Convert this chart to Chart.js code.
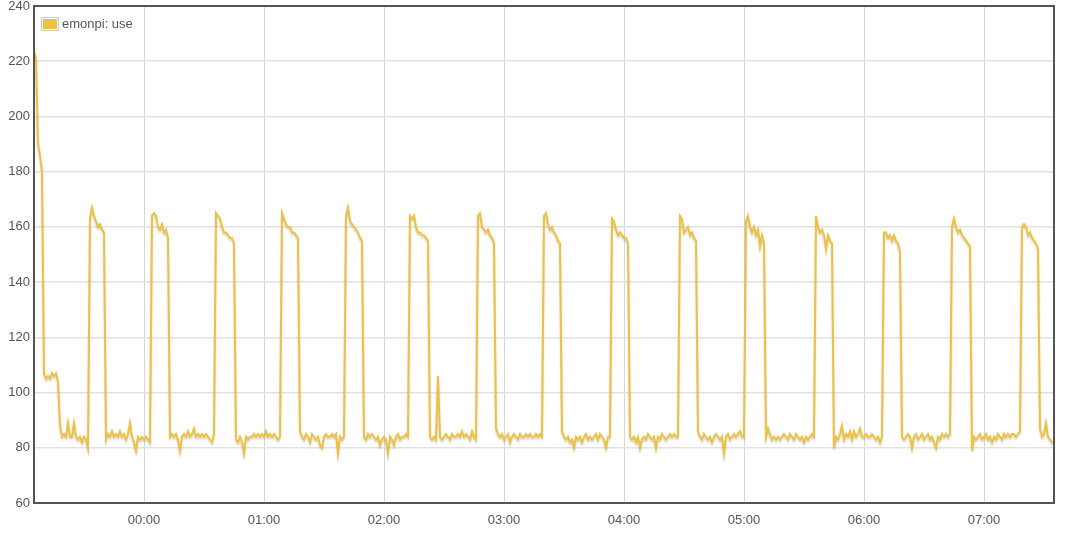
<!DOCTYPE html>
<html>
<head>
<meta charset="utf-8">
<title>emonpi: use</title>
<script src="https://cdn.jsdelivr.net/npm/chart.js@4.4.1/dist/chart.umd.min.js"></script>
<style>
  html, body { margin: 0; padding: 0; background: #fff; }
  #wrap { position: relative; width: 1069px; height: 543px; }
</style>
</head>
<body>
<div id="wrap"><canvas id="mychart"></canvas></div>
<script>
// データ（1分ごと、00:00からの分）
const startMin = -55;
const stepMin = 1;
const seriesLabel = 'emonpi: use';
const hourTicks = [0, 60, 120, 180, 240, 300, 360, 420];
const yMin = 60;
const yMax = 240;
const yStep = 20;

const use = [
  224, 221, 190, 186, 180, 107, 105, 106, 105, 107, // -55
  106, 107, 104, 88, 84, 85, 84, 89, 84, 84,         // -45
  89, 84, 83, 84, 82, 84, 83, 80, 163, 167,          // -35
  164, 162, 160, 161, 159, 158, 83, 85, 84, 86,      // -25
  84, 85, 84, 86, 84, 85, 83, 85, 89, 84,            // -15
  82, 79, 84, 83, 84, 83, 84, 83, 82, 164,           // -5
  165, 164, 160, 159, 161, 158, 159, 156, 84, 85,    // 5
  84, 85, 83, 79, 84, 85, 84, 86, 84, 85,            // 15
  87, 84, 85, 84, 85, 84, 85, 84, 83, 82,            // 25
  85, 165, 164, 163, 160, 158, 158, 157, 156, 156,   // 35
  154, 83, 82, 84, 82, 78, 84, 83, 84, 84,           // 45
  85, 84, 85, 84, 85, 84, 86, 84, 85, 84,            // 55
  85, 84, 83, 84, 165, 163, 161, 160, 160, 158,      // 65
  158, 157, 156, 86, 84, 83, 85, 84, 82, 85,         // 75
  84, 83, 84, 81, 80, 84, 85, 84, 84, 85,            // 85
  84, 85, 78, 84, 83, 84, 164, 167, 162, 161,        // 95
  160, 159, 158, 156, 155, 84, 83, 85, 84, 85,       // 105
  84, 83, 84, 81, 83, 84, 83, 78, 84, 83,            // 115
  81, 84, 85, 83, 84, 84, 85, 84, 164, 163,          // 125
  164, 160, 158, 158, 157, 157, 156, 155, 84, 83,    // 135
  84, 83, 106, 84, 83, 84, 85, 84, 83, 85,           // 145
  84, 84, 85, 84, 86, 84, 85, 84, 83, 86,            // 155
  84, 83, 164, 165, 160, 159, 158, 159, 157, 156,    // 165
  154, 87, 85, 84, 85, 83, 84, 85, 82, 84,           // 175
  85, 84, 83, 85, 84, 84, 85, 84, 85, 84,            // 185
  84, 85, 84, 85, 84, 164, 165, 161, 159, 160,       // 195
  158, 157, 155, 154, 86, 84, 83, 84, 82, 83,        // 205
  80, 84, 83, 84, 82, 84, 85, 83, 84, 83,            // 215
  84, 85, 83, 85, 84, 83, 80, 84, 84, 163,           // 225
  162, 159, 157, 158, 157, 156, 156, 154, 84, 83,    // 235
  84, 82, 84, 80, 83, 84, 83, 85, 84, 83,            // 245
  84, 80, 84, 83, 85, 84, 83, 84, 85, 84,            // 255
  85, 84, 84, 164, 163, 158, 159, 160, 157, 158,     // 265
  156, 155, 86, 84, 83, 85, 84, 83, 84, 82,          // 275
  84, 85, 84, 83, 84, 78, 84, 85, 83, 84,            // 285
  85, 84, 85, 86, 84, 84, 162, 164, 160, 158,        // 295
  160, 157, 159, 153, 157, 154, 84, 87, 85, 83,      // 305
  84, 83, 84, 83, 84, 85, 84, 83, 85, 84,            // 315
  83, 85, 84, 83, 84, 82, 84, 83, 84, 85,            // 325
  84, 164, 160, 158, 159, 157, 152, 157, 155, 154,   // 335
  80, 84, 83, 85, 88, 83, 85, 84, 86, 83,            // 345
  86, 84, 85, 87, 84, 84, 85, 84, 84, 85,            // 355
  84, 83, 84, 82, 84, 158, 158, 156, 157, 155,       // 365
  157, 155, 154, 151, 84, 83, 84, 85, 84, 80,        // 375
  84, 85, 83, 84, 85, 83, 84, 85, 83, 84,            // 385
  82, 80, 84, 83, 85, 84, 85, 84, 85, 160,           // 395
  163, 160, 158, 159, 157, 156, 155, 154, 153, 79,   // 405
  84, 83, 84, 85, 83, 84, 85, 83, 84, 82,            // 415
  84, 83, 85, 84, 83, 85, 84, 85, 84, 85,            // 425
  85, 84, 85, 86, 160, 161, 160, 157, 158, 156,      // 435
  155, 154, 152, 87, 84, 85, 89, 84, 83, 82,         // 445
  82                                                 // 455
];

const lineColor = '#edc240';
const textColor = '#545454';

Chart.defaults.font.family = "'Liberation Sans', Arial, sans-serif";
Chart.defaults.font.size = 13;
Chart.defaults.color = textColor;

function hhmm(m) {
  let h = Math.floor(m / 60);
  let mm = m - h * 60;
  h = (h + 24) % 24;
  return String(h).padStart(2, '0') + ':' + String(mm).padStart(2, '0');
}

// 線の影
const shadowPlugin = {
  id: 'shadow',
  beforeDatasetDraw(chart) {
    let ctx = chart.ctx;
    ctx.save();
    ctx.shadowColor = 'rgba(0,0,0,0.18)';
    ctx.shadowOffsetX = 0;
    ctx.shadowOffsetY = 2;
    ctx.shadowBlur = 2;
  },
  afterDatasetDraw(chart) {
    chart.ctx.restore();
  }
};

// 枠と凡例
const framePlugin = {
  id: 'frame',
  afterDraw(chart) {
    let ctx = chart.ctx;
    let a = chart.chartArea;
    ctx.save();
    ctx.strokeStyle = textColor;
    ctx.lineWidth = 2;
    ctx.strokeRect(a.left, a.top, a.right - a.left, a.bottom - a.top);

    // 凡例
    let lx = a.left + 7;
    let ly = a.top + 11;
    ctx.fillStyle = 'rgba(255,255,255,0.85)';
    ctx.fillRect(lx - 2, ly - 3, 100, 19);
    ctx.strokeStyle = '#cccccc';
    ctx.lineWidth = 1;
    ctx.strokeRect(lx + 0.5, ly + 0.5, 17, 13);
    ctx.fillStyle = lineColor;
    ctx.fillRect(lx + 2, ly + 2, 14, 10);
    ctx.fillStyle = textColor;
    ctx.font = "13px 'Liberation Sans', Arial, sans-serif";
    ctx.textBaseline = 'middle';
    ctx.textAlign = 'left';
    ctx.fillText(seriesLabel, lx + 21, ly + 7);
    ctx.restore();
  }
};

let ctx = document.getElementById('mychart');
let myChart = new Chart(ctx, {
  type: 'line',
  data: {
    datasets: [{
      label: seriesLabel,
      data: use.map((v, i) => ({ x: startMin + i * stepMin, y: v })),
      borderColor: lineColor,
      backgroundColor: lineColor,
      borderWidth: 2,
      pointRadius: 0,
      tension: 0,
      fill: false,
    }],
  },
  options: {
    responsive: true,
    maintainAspectRatio: false,
    animation: false,
    layout: { padding: { top: 6, right: 15, left: 0, bottom: 0 } },
    plugins: {
      legend: { display: false },
      tooltip: { enabled: false },
    },
    scales: {
      x: {
        type: 'linear',
        min: startMin,
        max: startMin + (use.length - 1) * stepMin,
        afterBuildTicks(scale) {
          scale.ticks = hourTicks.map(v => ({ value: v }));
        },
        afterFit(scale) {
          scale.height = 40;
          scale.paddingLeft = 0;
          scale.paddingRight = 0;
        },
        ticks: {
          padding: 10,
          maxRotation: 0,
          autoSkip: false,
          color: textColor,
          callback: (v) => hhmm(v),
        },
        grid: { color: '#d6d6d6', lineWidth: 1, drawTicks: false },
        border: { display: false },
      },
      y: {
        min: yMin,
        max: yMax,
        afterFit(scale) {
          scale.width = 34;
          scale.paddingTop = 0;
          scale.paddingBottom = 0;
        },
        ticks: { stepSize: yStep, padding: 4, color: textColor },
        grid: { color: '#e2e2e2', lineWidth: 1.5, drawTicks: false },
        border: { display: false },
      },
    },
  },
  plugins: [shadowPlugin, framePlugin],
});
</script>
</body>
</html>
